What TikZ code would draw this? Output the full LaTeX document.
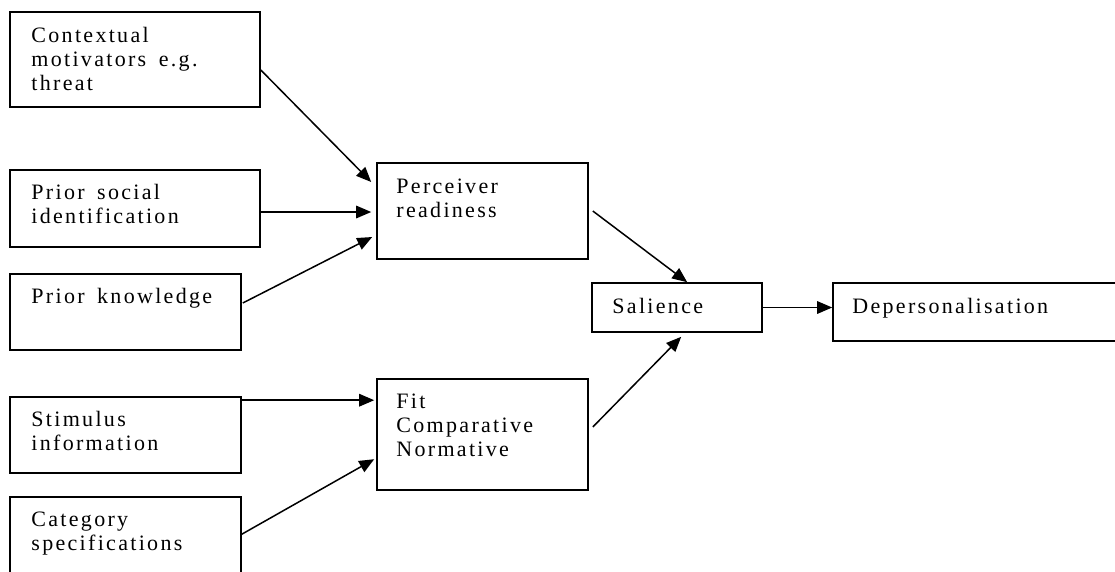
\documentclass[tikz,border=0pt]{standalone}
\usepackage{fontspec}
\setmainfont[LetterSpace=10.5,WordSpace=1.6]{Liberation Serif}
\usetikzlibrary{arrows.meta,calc}
\tikzset{
  box/.style={draw, rectangle, line width=1.6pt, inner sep=0pt},
  lbl/.style={anchor=base west, inner sep=0pt, font=\fontsize{22}{24}\selectfont},
  link/.style={line width=1.5pt, -{Triangle[length=15pt,width=12.5pt]}},
}
\newcommand\boxtext[1]{\begin{tabular}[t]{@{}l@{}}#1\end{tabular}}
\begin{document}
\begin{tikzpicture}[x=1pt,y=-1pt]
  \useasboundingbox (0,0) rectangle (1115,571);
  \fill[white] (0,0) rectangle (1115,571);
  \clip (0,0) rectangle (1115,571);

  % input boxes on the left
  \node[box, minimum width=250pt, minimum height=95pt] (ctx)  at (135,59.5)  {};
  \node[box, minimum width=250pt, minimum height=77pt] (psi)  at (135,208.5) {};
  \node[box, minimum width=231pt, minimum height=76pt] (pk)   at (125.5,312) {};
  \node[box, minimum width=231pt, minimum height=76pt] (stim) at (125.5,435) {};
  \node[box, minimum width=231pt, minimum height=100pt] (cat) at (125.5,547) {};

  % middle and right boxes
  \node[box, minimum width=211pt, minimum height=96pt]  (per) at (482.5,211)   {};
  \node[box, minimum width=211pt, minimum height=111pt] (fit) at (482.5,434.5) {};
  \node[box, minimum width=170pt, minimum height=49pt]  (sal) at (677,307.5)   {};
  \node[box, minimum width=300pt, minimum height=58pt]  (dep) at (983,312)     {};

  % box texts
  \node[lbl] (ctx-t)  at ($(ctx.north west)+(22,31)$)  {\boxtext{Contextual\\motivators e.g.\\threat}};
  \node[lbl] (psi-t)  at ($(psi.north west)+(22,30)$)  {\boxtext{Prior social\\identification}};
  \node[lbl] (pk-t)   at ($(pk.north west)+(22,30)$)   {\boxtext{Prior knowledge}};
  \node[lbl] (stim-t) at ($(stim.north west)+(22,30)$) {\boxtext{Stimulus\\information}};
  \node[lbl] (cat-t)  at ($(cat.north west)+(22,30)$)  {\boxtext{Category\\specifications}};
  \node[lbl] (per-t)  at ($(per.north west)+(20,31)$)  {\boxtext{Perceiver\\readiness}};
  \node[lbl] (fit-t)  at ($(fit.north west)+(20,30)$)  {\boxtext{Fit\\Comparative\\Normative}};
  \node[lbl] (sal-t)  at ($(sal.north west)+(21,31)$)  {\boxtext{Salience}};
  \node[lbl] (dep-t)  at ($(dep.north west)+(20,31)$)  {\boxtext{Depersonalisation}};

  % connectors
  \draw[link] ($(ctx.east)+(0,10.5)$) -- ($(per.west)+(-5,-29)$);
  \draw[link] ($(psi.east)+(0,3.5)$) -- ($(psi.east -| per.west)+(-5,3.5)$);
  \draw[link] ($(pk.east)+(1,-9)$) -- ($(per.west)+(-4,26)$);
  \draw[link] ($(stim.north east)+(0,4)$) -- ($(fit.north west)+(-2,22)$);
  \draw[link] ($(cat.north east)+(0,38)$) -- ($(fit.north west)+(-2,81)$);
  \draw[link] ($(per.east)+(4,0)$) -- ($(sal.north west)+(96,0)$);
  \draw[link] ($(fit.east)+(4,-7.5)$) -- ($(sal.south west)+(90,4)$);
  \draw[link] (sal.east) -- (sal.east -| dep.west);
\end{tikzpicture}
\end{document}
